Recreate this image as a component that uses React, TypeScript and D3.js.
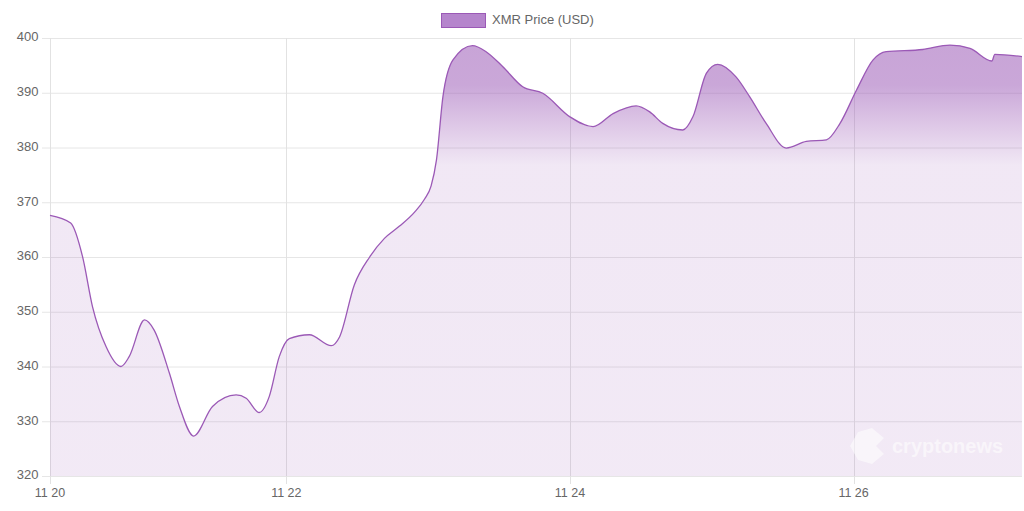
import React from 'react';
import * as d3 from 'd3';

// hours since 11-20 00:00
const hours = [8, 11.5, 13.5, 15.2, 17.5, 20.0, 21.4, 24.0, 25.6, 28.2, 29.9, 32.3, 35.5, 39.5, 41.2, 43.4, 45.1, 46.8, 48.5, 51.9, 55.6, 57.0, 59.5, 62.1, 64.6, 67.1, 69.7, 71.4, 72.5, 73.4, 74.5, 76.2, 79.5, 81.8, 84.6, 88.0, 91.4, 96.0, 99.9, 103.3, 107.2, 109.5, 111.7, 115.1, 116.8, 119.1, 121.0, 124.1, 126.4, 129.2, 132.6, 136.0, 139.4, 141.7, 144.5, 147.3, 149.5, 155.7, 160.3, 163.7, 167.4, 167.9, 172.5];
const prices = [367.6, 366.2, 360.1, 350.9, 343.6, 340.0, 341.8, 348.5, 346.7, 338.8, 332.7, 327.3, 332.7, 334.8, 334.2, 331.6, 334.5, 341.8, 345.1, 345.8, 343.8, 345.4, 354.9, 360.0, 363.4, 365.6, 368.2, 370.6, 373.0, 377.7, 389.3, 396.0, 398.6, 397.5, 394.8, 391.1, 389.9, 385.6, 383.8, 386.2, 387.6, 386.5, 384.4, 383.2, 385.6, 393.6, 395.2, 392.9, 389.3, 384.4, 379.9, 381.1, 381.4, 384.4, 390.5, 396.0, 397.5, 397.9, 398.7, 398.1, 395.8, 397.0, 396.6];
const yTicks = [320, 330, 340, 350, 360, 370, 380, 390, 400];
const xTickHours = [8, 48, 96, 144];
const xTickLabels = ['11 20', '11 22', '11 24', '11 26'];
const seriesName = 'XMR Price (USD)';

export default function App() {
  const W = 1024, H = 511;
  const left = 50, right = 1022, top = 38, bottom = 476;
  const x = d3.scaleLinear().domain([hours[0], hours[hours.length - 1]]).range([left, right]);
  const y = d3.scaleLinear().domain([320, 400]).range([bottom, top]);
  const data = hours.map((h, i) => ({ h, v: prices[i] }));
  const line = d3.line<{ h: number; v: number }>().x(d => x(d.h)).y(d => y(d.v)).curve(d3.curveMonotoneX);
  const area = d3.area<{ h: number; v: number }>().x(d => x(d.h)).y0(bottom).y1(d => y(d.v)).curve(d3.curveMonotoneX);
  const font = '"Liberation Sans", Arial, Helvetica, sans-serif';
  const purple = '#9b59b6';

  return (
    <svg width={W} height={H} style={{ position: 'absolute', left: 0, top: 0 }} fontFamily={font}>
      <defs>
        <linearGradient id="fillGrad" gradientUnits="userSpaceOnUse" x1={0} y1={top} x2={0} y2={bottom}>
          <stop offset={0} stopColor={purple} stopOpacity={0.55} />
          <stop offset={(85 - top) / (bottom - top)} stopColor={purple} stopOpacity={0.53} />
          <stop offset={(165 - top) / (bottom - top)} stopColor={purple} stopOpacity={0.14} />
          <stop offset={1} stopColor={purple} stopOpacity={0.13} />
        </linearGradient>
      </defs>
      <rect x={0} y={0} width={W} height={H} fill="#fff" />
      {/* legend */}
      <rect x={441.5} y={13.5} width={44} height={14} fill="#b585cc" stroke={purple} strokeWidth={1} />
      <text x={492} y={20.5} dominantBaseline="middle" fontSize={13} fill="#666">{seriesName}</text>
      {/* horizontal grid */}
      {yTicks.map(t => (
        <g key={t}>
          <line x1={left - 8} x2={right} y1={y(t) + 0.5} y2={y(t) + 0.5} stroke="#e6e6e6" strokeWidth={1} />
          <text x={38.5} y={y(t)} textAnchor="end" dominantBaseline="middle" fontSize={13} fill="#666">{t}</text>
        </g>
      ))}
      {/* vertical grid */}
      {xTickHours.map((h, i) => (
        <g key={h}>
          <line x1={Math.round(x(h)) + 0.5} x2={Math.round(x(h)) + 0.5} y1={top} y2={bottom + 8} stroke="#e2e2e2" strokeWidth={1} />
          <text x={x(h)} y={494} textAnchor="middle" dominantBaseline="middle" fontSize={12.5} fill="#666">{xTickLabels[i]}</text>
        </g>
      ))}
      <path d={area(data) || ''} fill="url(#fillGrad)" />
      <path d={line(data) || ''} fill="none" stroke={purple} strokeWidth={1.3} />
      {/* watermark */}
      <g opacity={0.55} fill="#fff">
        <path d="M858,432 L872,428 L884,438 L876,446 L884,454 L872,464 L858,460 L850,446 Z" />
        <text x={892} y={453} fontSize={20} fontWeight="bold" fill="#fff">cryptonews</text>
      </g>
    </svg>
  );
}
